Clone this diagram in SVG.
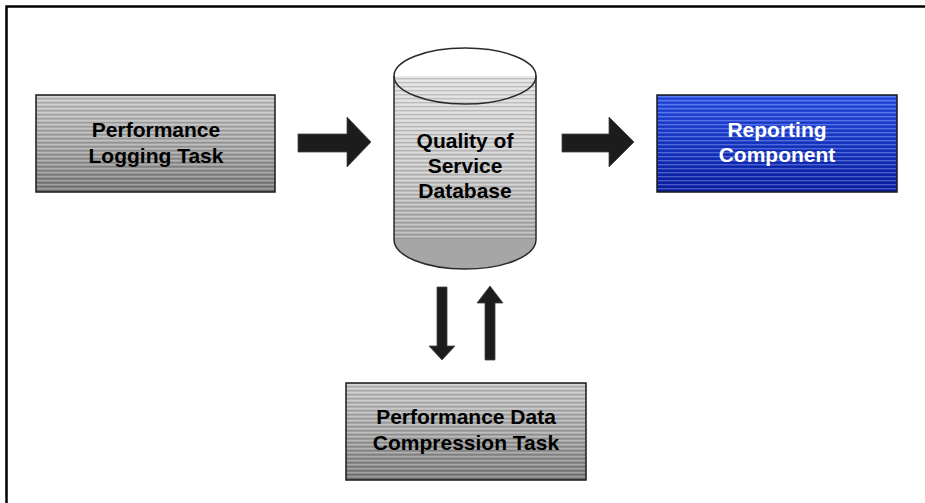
<svg xmlns="http://www.w3.org/2000/svg" width="925" height="503" viewBox="0 0 925 503">
<style>
.lbl{font-family:"Liberation Sans",Arial,sans-serif;font-weight:bold;font-size:21px;text-anchor:middle}
.dark{fill:#000}
.light{fill:#fff}
.box{stroke:#1a1a1a;stroke-width:1.5}
.arrow{fill:#1c1c1c;stroke:#444;stroke-width:0.8}
.edge{fill:none;stroke:#2a2a2a;stroke-width:1.5}
</style>
<defs>
<linearGradient id="gGray" x1="0" y1="0" x2="0" y2="1">
<stop offset="0" stop-color="#c6c6c6"/>
<stop offset="0.5" stop-color="#a9a9a9"/>
<stop offset="1" stop-color="#7c7c7c"/>
</linearGradient>
<linearGradient id="gBlue" x1="0" y1="0" x2="0" y2="1">
<stop offset="0" stop-color="#2a50ec"/>
<stop offset="0.5" stop-color="#1638cc"/>
<stop offset="1" stop-color="#0a1ea8"/>
</linearGradient>
<linearGradient id="gCyl" x1="0" y1="0" x2="0" y2="1">
<stop offset="0" stop-color="#e2e2e2"/>
<stop offset="0.6" stop-color="#c9c9c9"/>
<stop offset="1" stop-color="#adadad"/>
</linearGradient>
<pattern id="stripes" width="8" height="4" patternUnits="userSpaceOnUse">
<rect x="0" y="0" width="8" height="1.3" fill="#ffffff" fill-opacity="0.25"/>
<rect x="0" y="2" width="8" height="1.3" fill="#000000" fill-opacity="0.14"/>
</pattern>
</defs>
<path d="M6.5,503 V6.5 H925" fill="none" stroke="#000" stroke-width="2.5"/>

<g id="connectors">
<path class="arrow" d="M298,134 H347 V117 L371,142 L347,167 V152 H298 Z"/>
<path class="arrow" d="M562,134 H609 V117 L634,142 L609,167 V152 H562 Z"/>
<path class="arrow" d="M437,287 H447 V346 H455 L442,360 L429,346 H437 Z"/>
<path class="arrow" d="M485,360 V303 H477 L490,286 L503,303 H495 V360 Z"/>
</g>

<g id="logging">
<rect x="36" y="95" width="239" height="97" fill="url(#gGray)"/>
<rect x="36" y="95" width="239" height="97" fill="url(#stripes)" class="box"/>
<text class="lbl dark" x="156" y="137">Performance</text>
<text class="lbl dark" x="156" y="163">Logging Task</text>
</g>

<g id="database">
<path d="M394,240 A71,29 0 0 0 536,240 Z" fill="#a6a6a6"/>
<rect x="394" y="76" width="142" height="164" fill="url(#gCyl)"/>
<rect x="394" y="76" width="142" height="164" fill="url(#stripes)"/>
<ellipse cx="465" cy="76" rx="71" ry="28" fill="#e3e3e3" class="edge"/>
<path class="edge" d="M394,76 V240 A71,29 0 0 0 536,240 V76"/>
<text class="lbl dark" x="465" y="148">Quality of</text>
<text class="lbl dark" x="465" y="173">Service</text>
<text class="lbl dark" x="465" y="198">Database</text>
</g>

<g id="reporting">
<rect x="657" y="95" width="240" height="97" fill="url(#gBlue)"/>
<rect x="657" y="95" width="240" height="97" fill="url(#stripes)" class="box"/>
<text class="lbl light" x="777" y="137">Reporting</text>
<text class="lbl light" x="777" y="162">Component</text>
</g>

<g id="compression">
<rect x="346" y="383" width="240" height="97" fill="url(#gGray)"/>
<rect x="346" y="383" width="240" height="97" fill="url(#stripes)" class="box"/>
<text class="lbl dark" x="466" y="424">Performance Data</text>
<text class="lbl dark" x="466" y="450">Compression Task</text>
</g>
</svg>
